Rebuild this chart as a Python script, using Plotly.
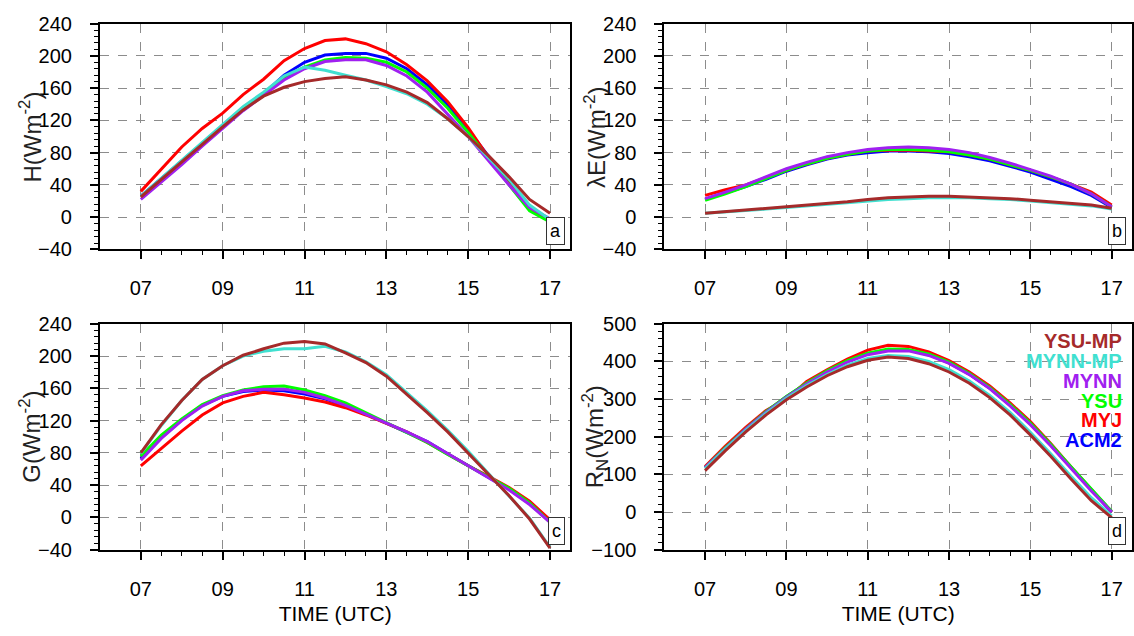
import numpy as np
import plotly.graph_objects as go

# ---------------- data ----------------
time = [7, 7.5, 8, 8.5, 9, 9.5, 10, 10.5, 11, 11.5, 12, 12.5, 13, 13.5, 14, 14.5, 15, 15.5, 16, 16.5, 17]
schemes = ["ACM2", "MYJ", "YSU", "MYNN", "MYNN-MP", "YSU-MP"]  # drawing order
colors = {"YSU-MP": "#A52A2A", "MYNN-MP": "#40E0D0", "MYNN": "#A020F0",
          "YSU": "#00FF00", "MYJ": "#FF0000", "ACM2": "#0000FF"}
legend_order = ["YSU-MP", "MYNN-MP", "MYNN", "YSU", "MYJ", "ACM2"]

# (a) sensible heat flux H
H_ACM2 = [26, 48, 70, 92, 114, 135, 153, 176, 192, 201, 203, 203, 197, 184, 164, 139, 108, 75, 42, 10, -4]
H_MYJ = [32, 60, 87, 110, 129, 152, 171, 194, 209, 219, 221, 215, 205, 189, 169, 143, 111, 74, 43, 10, -5]
H_YSU = [25, 47, 69, 91, 113, 134, 152, 172, 186, 195, 198, 197, 192, 180, 160, 135, 105, 72, 40, 8, -6]
H_MYNN = [22, 43, 65, 88, 110, 132, 151, 170, 184, 193, 195, 195, 188, 175, 155, 128, 100, 70, 40, 12, -2]
H_MYNNMP = [26, 48, 70, 93, 115, 137, 155, 175, 186, 182, 176, 170, 162, 153, 140, 122, 100, 74, 47, 15, -3]
H_YSUMP = [25, 47, 68, 90, 112, 133, 150, 161, 168, 172, 174, 170, 164, 155, 142, 122, 100, 76, 50, 22, 5]

# (b) latent heat flux lambda E
LE_ACM2 = [22, 30, 38, 47, 57, 65, 72, 77, 80, 82, 82, 81, 79, 75, 70, 63, 56, 47, 38, 27, 12]
LE_MYJ = [27, 34, 40, 49, 58, 66, 73, 78, 82, 83, 83, 82, 81, 77, 72, 65, 58, 50, 41, 31, 15]
LE_YSU = [21, 29, 38, 48, 58, 66, 73, 78, 82, 84, 84, 83, 81, 77, 72, 65, 58, 50, 41, 29, 13]
LE_MYNN = [23, 31, 40, 50, 60, 68, 75, 80, 84, 86, 87, 86, 84, 80, 74, 67, 59, 51, 41, 29, 13]
LE_MYNNMP = [5, 6.5, 8, 10, 12, 14, 16, 18, 20, 22, 23, 24, 24, 24, 23, 22, 20, 18, 16, 14, 10]
LE_YSUMP = [5, 7, 9, 11, 13, 15, 17, 19, 22, 24, 25, 26, 26, 25, 24, 23, 21, 19, 17, 15, 11]

# (c) ground heat flux G
G_ACM2 = [73, 99, 121, 139, 150, 156, 158, 157, 153, 147, 138, 128, 117, 106, 94, 79, 64, 50, 35, 17, -5]
G_MYJ = [64, 86, 107, 127, 142, 150, 155, 152, 148, 143, 136, 127, 117, 106, 93, 78, 64, 51, 37, 20, -3]
G_YSU = [76, 102, 122, 140, 151, 158, 162, 163, 158, 151, 142, 130, 117, 105, 93, 78, 64, 50, 36, 18, -6]
G_MYNN = [71, 98, 120, 138, 150, 157, 159, 159, 155, 148, 139, 128, 117, 106, 94, 79, 63, 49, 34, 16, -6]
G_MYNNMP = [79, 114, 145, 171, 188, 200, 206, 209, 209, 212, 205, 193, 177, 155, 132, 108, 82, 54, 27, -1, -37]
G_YSUMP = [80, 115, 145, 171, 188, 201, 209, 216, 218, 215, 204, 192, 175, 153, 130, 106, 80, 53, 27, -2, -38]

# (d) net radiation RN
RN_ACM2 = [118, 170, 220, 266, 306, 342, 374, 401, 421, 430, 430, 418, 396, 366, 329, 284, 234, 178, 118, 58, 0]
RN_MYJ = [121, 175, 225, 270, 300, 347, 378, 406, 430, 443, 440, 425, 402, 372, 335, 290, 240, 182, 120, 60, 0]
RN_YSU = [118, 171, 221, 267, 307, 343, 375, 402, 422, 433, 432, 420, 398, 368, 331, 286, 236, 180, 120, 60, 2]
RN_MYNN = [118, 170, 220, 265, 305, 340, 372, 398, 418, 428, 428, 416, 395, 365, 328, 282, 232, 176, 116, 56, 0]
RN_MYNNMP = [115, 168, 217, 262, 302, 336, 365, 390, 408, 416, 413, 400, 378, 348, 310, 265, 212, 155, 95, 38, -10]
RN_YSUMP = [110, 163, 213, 258, 298, 332, 362, 386, 403, 412, 408, 394, 372, 342, 304, 258, 205, 148, 88, 30, -15]

panels = {
    "a": {"ACM2": H_ACM2, "MYJ": H_MYJ, "YSU": H_YSU, "MYNN": H_MYNN, "MYNN-MP": H_MYNNMP, "YSU-MP": H_YSUMP},
    "b": {"ACM2": LE_ACM2, "MYJ": LE_MYJ, "YSU": LE_YSU, "MYNN": LE_MYNN, "MYNN-MP": LE_MYNNMP, "YSU-MP": LE_YSUMP},
    "c": {"ACM2": G_ACM2, "MYJ": G_MYJ, "YSU": G_YSU, "MYNN": G_MYNN, "MYNN-MP": G_MYNNMP, "YSU-MP": G_YSUMP},
    "d": {"ACM2": RN_ACM2, "MYJ": RN_MYJ, "YSU": RN_YSU, "MYNN": RN_MYNN, "MYNN-MP": RN_MYNNMP, "YSU-MP": RN_YSUMP},
}
ytitles = {"a": "H(Wm<sup>-2</sup>)", "b": "\u03bbE(Wm<sup>-2</sup>)",
           "c": "G(Wm<sup>-2</sup>)", "d": "R<sub>N</sub>(Wm<sup>-2</sup>)"}
yranges = {"a": [-40, 240], "b": [-40, 240], "c": [-40, 240], "d": [-100, 500]}
ydticks = {"a": 40, "b": 40, "c": 40, "d": 100}
xtick_vals = [7, 9, 11, 13, 15, 17]
xtick_text = ["07", "09", "11", "13", "15", "17"]

# ---------------- layout ----------------
W, Hh = 1134, 636
FONT = "Liberation Sans, Arial, Helvetica, sans-serif"
px = {  # left, right, top, bottom in pixels
    "a": (100, 571, 13, 247),
    "b": (665, 1133, 13, 247),
    "c": (100, 571, 324, 558),
    "d": (665, 1133, 324, 558),
}

fig = go.Figure()
layout = dict(width=W, height=Hh, margin=dict(l=0, r=0, t=0, b=0),
              paper_bgcolor="white", plot_bgcolor="white", showlegend=False,
              font=dict(family=FONT, color="black"))
annotations = []

for i, key in enumerate(["a", "b", "c", "d"]):
    n = i + 1
    xa = "x" if n == 1 else f"x{n}"
    ya = "y" if n == 1 else f"y{n}"
    l, r, t, b = px[key]
    for s in schemes:
        fig.add_trace(go.Scatter(x=time, y=panels[key][s], mode="lines",
                                 line=dict(color=colors[s], width=3),
                                 xaxis=xa, yaxis=ya, name=s))
    layout[f"xaxis{'' if n == 1 else n}"] = dict(
        domain=[l / W, r / W], anchor=ya, range=[6, 17.5],
        tickvals=xtick_vals, ticktext=xtick_text,
        ticks="outside", ticklen=8, tickwidth=1.5, tickcolor="black",
        ticklabelstandoff=12,
        showline=True, linecolor="black", linewidth=2, mirror=True,
        showgrid=True, gridcolor="#8c8c8c", griddash="dash", gridwidth=1,
        zeroline=False, tickfont=dict(size=20, family=FONT, color="black"),
        minor=dict(tickvals=list(np.arange(7, 17.01, 0.5)), ticks="outside",
                   ticklen=4, tickwidth=1, tickcolor="black", showgrid=False),
        title=dict(text="TIME (UTC)" if key in ("c", "d") else "",
                   font=dict(size=21, family=FONT), standoff=8),
    )
    lo, hi = yranges[key]
    dt = ydticks[key]
    layout[f"yaxis{'' if n == 1 else n}"] = dict(
        domain=[1 - b / Hh, 1 - t / Hh], anchor=xa, range=[lo, hi],
        tickmode="linear", tick0=lo, dtick=dt,
        ticks="outside", ticklen=8, tickwidth=1.5, tickcolor="black",
        ticklabelstandoff=14,
        showline=True, linecolor="black", linewidth=2, mirror=True,
        showgrid=True, gridcolor="#8c8c8c", griddash="dash", gridwidth=1,
        zeroline=False, tickfont=dict(size=20, family=FONT, color="black"),
        minor=dict(tickmode="linear", tick0=lo, dtick=dt / 5, ticks="outside",
                   ticklen=4, tickwidth=1, tickcolor="black", showgrid=False),
    )
    # y-axis title
    annotations.append(dict(text=ytitles[key], xref="paper", yref="paper",
                            x=(l - 70) / W, y=1 - (t + b) / 2 / Hh,
                            xanchor="center", yanchor="middle", textangle=-90,
                            showarrow=False, font=dict(size=24, family=FONT, color="#222")))
    # panel letter box
    annotations.append(dict(text=key, xref="paper", yref="paper",
                            x=(r - 6) / W, y=1 - (b - 5) / Hh,
                            xanchor="right", yanchor="bottom", showarrow=False,
                            bgcolor="white", bordercolor="#333", borderwidth=1, borderpad=3,
                            font=dict(size=18, family=FONT, color="black")))

# legend text in panel d
l, r, t, b = px["d"]
for j, s in enumerate(legend_order):
    annotations.append(dict(text=f"<b>{s}</b>", xref="paper", yref="paper",
                            x=1125 / W, y=1 - (342 + 20.5 * j) / Hh,
                            xanchor="right", yanchor="middle", showarrow=False,
                            font=dict(size=20, family=FONT, color=colors[s])))

layout["annotations"] = annotations
fig.update_layout(**layout)
fig.write_html("out.html")
